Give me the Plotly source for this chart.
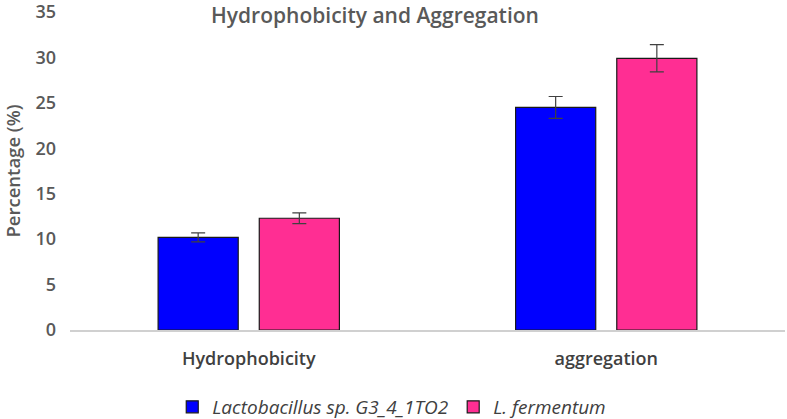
import plotly.graph_objects as go

categories = ["Hydrophobicity", "aggregation"]
series_names = ["Lactobacillus sp. G3_4_1TO2", "L. fermentum"]
lacto_values = [10.2, 24.5]
lacto_err = [0.5, 1.2]
ferm_values = [12.3, 29.9]
ferm_err = [0.6, 1.5]
colors = ["#0000FF", "#FF2E93"]

FONT = "Open Sans, Liberation Sans, sans-serif"

fig = go.Figure()
for name, vals, errs, col in zip(series_names, [lacto_values, ferm_values], [lacto_err, ferm_err], colors):
    fig.add_trace(go.Bar(
        name=name, x=categories, y=vals,
        marker=dict(color=col, line=dict(color="#1a1a1a", width=1.2)),
        error_y=dict(type="data", array=errs, visible=True, color="#404040", thickness=1.2, width=7),
    ))

fig.update_layout(
    width=787, height=419,
    paper_bgcolor="white", plot_bgcolor="white",
    margin=dict(l=70, r=2, t=12, b=89, autoexpand=False),
    barmode="group", bargap=0.434, bargroupgap=0.208,
    font=dict(family=FONT, color="#595959"),
    showlegend=True,
    legend=dict(orientation="h", x=0.45, xanchor="center", y=-0.242, yanchor="middle",
                font=dict(size=19, color="#404040", family=FONT, style="italic"),
                itemwidth=30, traceorder="normal"),
    annotations=[dict(text="Hydrophobicity and Aggregation", xref="paper", yref="paper",
                      x=0.427, y=1.0, yshift=-3, yanchor="middle", xanchor="center", showarrow=False,
                      font=dict(size=21, color="#595959", weight=600))],
)
fig.update_yaxes(range=[0, 35], dtick=5, showgrid=False, zeroline=False, showline=False,
                 ticklabeloverflow="allow",
                 tickfont=dict(size=18, color="#595959", weight=600), ticklabelstandoff=13,
                 title=dict(text="Percentage (%)", font=dict(size=18.5, color="#595959", weight=600), standoff=12))
fig.update_xaxes(showline=True, linecolor="#d0d0d0", linewidth=1.5, showgrid=False,
                 tickfont=dict(size=18, color="#404040", weight=600), ticklabelstandoff=12)

fig.write_html("out.html", config={"displayModeBar": False},
               post_script="document.body.style.margin='0';document.body.style.padding='0';")
